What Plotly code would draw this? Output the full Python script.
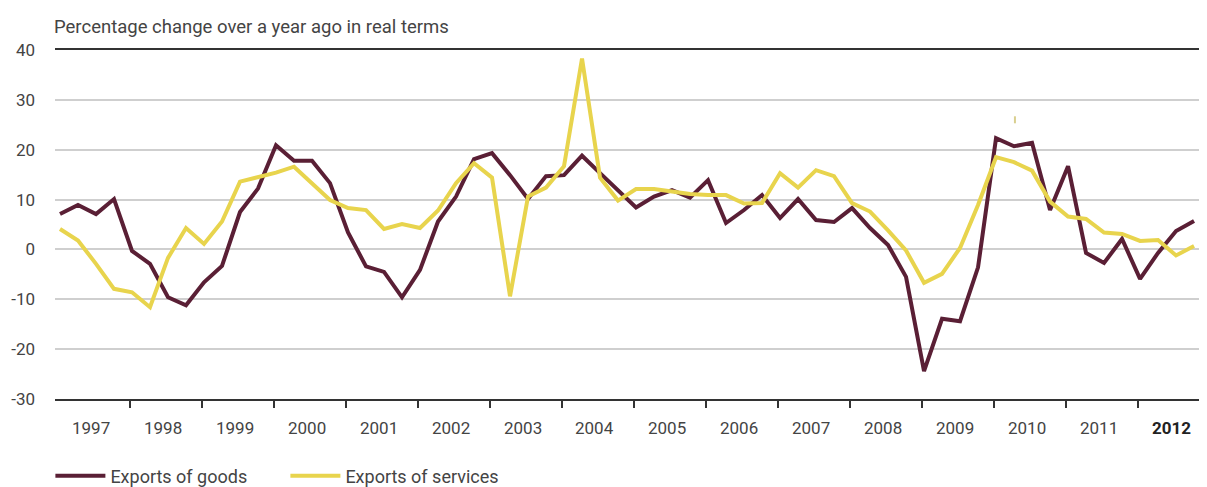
import plotly.graph_objects as go

# quarterly data, 1997 Q1 - 2012 Q4
years = list(range(1997, 2013))
year_labels = [str(y) for y in years]
y_ticks = [-30, -20, -10, 0, 10, 20, 30, 40]

goods = [7.1, 8.9, 7.1, 10.1, -0.3, -2.9, -9.6, -11.2, -6.6, -3.3, 7.5, 12.2,
         20.9, 17.8, 17.8, 13.3, 3.4, -3.4, -4.5, -9.6, -4.1, 5.6, 10.6, 18.1,
         19.3, 14.9, 10.1, 14.7, 14.9, 18.8, 15.3, 11.9, 8.4, 10.6, 11.9, 10.4,
         13.9, 5.3, 7.9, 10.9, 6.3, 10.1, 5.9, 5.5, 8.3, 4.3, 0.9, -5.5,
         -24.4, -13.9, -14.4, -3.6, 22.3, 20.7, 21.4, 7.9, 16.7, -0.7, -2.7, 2.1,
         -5.9, -0.7, 3.7, 5.7]

services = [4.1, 1.8, -2.9, -7.9, -8.6, -11.6, -1.7, 4.3, 1.1, 5.6, 13.6, 14.4,
            15.4, 16.6, 13.3, 9.9, 8.3, 7.9, 4.1, 5.1, 4.3, 7.8, 13.3, 17.3,
            14.4, -9.4, 10.6, 12.4, 16.7, 38.3, 14.4, 9.8, 12.1, 12.1, 11.6, 11.1,
            10.9, 10.9, 9.2, 9.3, 15.3, 12.4, 15.9, 14.7, 9.3, 7.6, 3.8, -0.2,
            -6.7, -4.9, 0.3, 8.9, 18.5, 17.5, 15.8, 9.6, 6.6, 6.1, 3.4, 3.1,
            1.7, 1.9, -1.2, 0.7]

# stray mark visible in the source image
stray_x = [53.05]
stray_y = [26.0]

quarters = list(range(len(goods)))
FONT = "Roboto"
GREY = "#444444"

fig = go.Figure()
fig.add_trace(go.Scatter(x=quarters, y=goods, mode="lines", name="Exports of goods",
                         line=dict(color="#5a1f35", width=4)))
fig.add_trace(go.Scatter(x=quarters, y=services, mode="lines", name="Exports of services",
                         line=dict(color="#e8d44d", width=4)))
fig.add_trace(go.Scatter(x=stray_x, y=stray_y, mode="markers", showlegend=False,
                         hoverinfo="skip",
                         marker=dict(symbol="line-ns", size=5,
                                     line=dict(color="#d9cf8f", width=2))))

# year boundaries (ticks) and year labels
boundaries = [4 * k - 0.09 for k in range(1, len(years))]
annotations = []
for k, lab in enumerate(year_labels):
    last = k == len(year_labels) - 1
    annotations.append(dict(
        x=4 * k + 1.72, y=-30, xref="x", yref="y",
        text=f"<b>{lab}</b>" if last else lab,
        showarrow=False, yanchor="top", yshift=-17,
        font=dict(family=FONT, size=17, color="#222222" if last else GREY)))

annotations.append(dict(
    x=0, y=1, xref="paper", yref="paper", xanchor="left", yanchor="bottom",
    yshift=10, xshift=-3, showarrow=False,
    text="Percentage change over a year ago in real terms",
    font=dict(family=FONT, size=18.5, color=GREY)))

# page body adds an 8px offset; the figure runs past the window bottom
# so the legend never pushes the margins
fig.update_layout(
    width=1199, height=500,
    margin=dict(l=47, r=0, t=42, b=109),
    paper_bgcolor="white", plot_bgcolor="white",
    font=dict(family=FONT, color=GREY),
    annotations=annotations,
    xaxis=dict(range=[-0.278, 63.72], tickvals=boundaries,
               ticktext=[""] * len(boundaries), ticks="outside", ticklen=7,
               tickwidth=1.5, tickcolor="#333333", showline=True,
               linecolor="#333333", linewidth=2, mirror=True,
               showgrid=False, zeroline=False, automargin=False),
    yaxis=dict(range=[-30, 40], tickvals=y_ticks,
               ticktext=[str(v) for v in y_ticks], gridcolor="#cfcfcf",
               gridwidth=1.5, zeroline=False, showline=False,
               ticklabelstandoff=19, automargin=False,
               tickfont=dict(family=FONT, size=17, color=GREY)),
    legend=dict(orientation="h", x=-0.004, xanchor="left", y=-0.2206, yanchor="middle",
                itemwidth=50, entrywidth=170, entrywidthmode="pixels",
                font=dict(family=FONT, size=18, color=GREY)),
    showlegend=True,
)

fig.write_html("out.html")
